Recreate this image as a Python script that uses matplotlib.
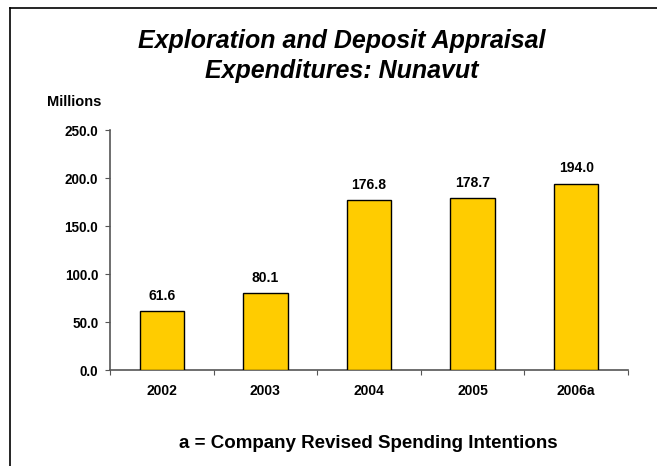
import matplotlib.pyplot as plt
from matplotlib.lines import Line2D
import numpy as np

plt.rcParams['font.family'] = ['Liberation Sans', 'DejaVu Sans']

anni = ['2002', '2003', '2004', '2005', '2006a']
spese = [61.6, 80.1, 176.8, 178.7, 194.0]
tick_y = [0, 50, 100, 150, 200, 250]

fig = plt.figure(figsize=(6.57, 4.66), dpi=100)
W, H = 657, 466

# cornice (bordo sinistro e superiore)
fig.add_artist(Line2D([10 / W, 10 / W], [0, 1 - 8 / H], color='black', lw=1.2))
fig.add_artist(Line2D([10 / W, 1], [1 - 8 / H, 1 - 8 / H], color='black', lw=1.2))

ax = fig.add_axes([110 / W, 1 - 370 / H, (628 - 110) / W, (370 - 130) / H])
x = np.arange(len(anni))
ax.bar(x, spese, width=0.43, color='#FFCC00', edgecolor='black', linewidth=1.0, zorder=3)

for xi, v in zip(x, spese):
    ax.annotate(f'{v:.1f}', (xi, v), xytext=(0, 6), textcoords='offset points',
                ha='center', va='bottom', fontsize=10, fontweight='bold')

ax.set_xlim(-0.5, len(anni) - 0.5)
ax.set_ylim(0, 250)
ax.set_yticks(tick_y)
ax.set_yticklabels([f'{t:.1f}' for t in tick_y], fontsize=9.75, fontweight='bold')
ax.set_xticks(np.arange(-0.5, len(anni), 1.0))
ax.set_xticklabels([])
ax.set_xticks(x, minor=True)
ax.set_xticklabels(anni, minor=True, fontsize=10, fontweight='bold')
ax.tick_params(axis='x', which='minor', length=0, pad=10)
ax.tick_params(axis='x', which='major', direction='out', length=3.5, color='#555555')
ax.tick_params(axis='y', direction='out', length=3.5, color='#555555', pad=5)

for s in ['top', 'right']:
    ax.spines[s].set_visible(False)
for s in ['left', 'bottom']:
    ax.spines[s].set_color('#555555')
    ax.spines[s].set_linewidth(1.2)

fig.text(342 / W, 1 - 48 / H, 'Exploration and Deposit Appraisal',
         ha='center', va='baseline', fontsize=18, fontweight='bold', fontstyle='italic')
fig.text(342 / W, 1 - 78 / H, 'Expenditures: Nunavut',
         ha='center', va='baseline', fontsize=18, fontweight='bold', fontstyle='italic')
fig.text(74 / W, 1 - 102 / H, 'Millions', ha='center', va='center', fontsize=10.5, fontweight='bold')
fig.text(368 / W, 1 - 448 / H, 'a = Company Revised Spending Intentions',
         ha='center', va='baseline', fontsize=13.5, fontweight='bold')

fig.savefig('out.png', dpi=100)
